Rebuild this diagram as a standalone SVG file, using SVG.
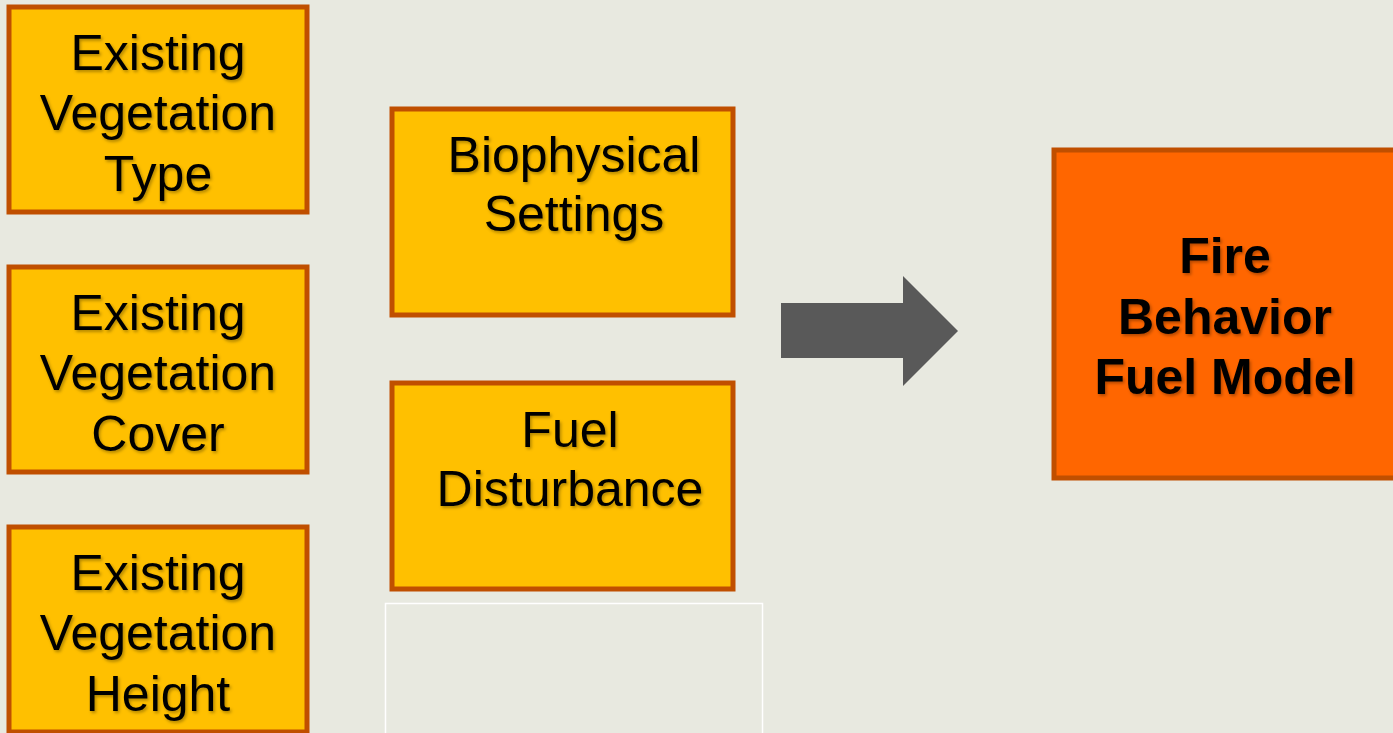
<svg xmlns="http://www.w3.org/2000/svg" width="1393" height="733" viewBox="0 0 1393 733">
  <defs>
    <style>
      .box { fill: #FFC000; stroke: #C04F00; stroke-width: 5; }
      .out { fill: #FF6600; stroke: #C04F00; stroke-width: 5; }
      .lbl { font-family: "Liberation Sans", Arial, sans-serif; font-size: 50px; fill: #000; text-anchor: middle; filter: url(#shade); }
      .bold { font-weight: bold; }
    </style>
    <filter id="shade" x="-10%" y="-20%" width="120%" height="150%">
      <feDropShadow dx="1.5" dy="2" stdDeviation="1.5" flood-color="#000" flood-opacity="0.3"/>
    </filter>
  </defs>

  <rect width="1393" height="733" fill="#E8E9E0"/>

  <!-- existing vegetation inputs -->
  <g id="evt">
    <rect class="box" x="9" y="7" width="298" height="205"/>
    <text class="lbl" x="158" y="70">Existing</text>
    <text class="lbl" x="158" y="130">Vegetation</text>
    <text class="lbl" x="158" y="191">Type</text>
  </g>
  <g id="evc">
    <rect class="box" x="9" y="267" width="298" height="205"/>
    <text class="lbl" x="158" y="330">Existing</text>
    <text class="lbl" x="158" y="390">Vegetation</text>
    <text class="lbl" x="158" y="451">Cover</text>
  </g>
  <g id="evh">
    <rect class="box" x="9" y="527" width="298" height="205"/>
    <text class="lbl" x="158" y="590">Existing</text>
    <text class="lbl" x="158" y="650">Vegetation</text>
    <text class="lbl" x="158" y="711">Height</text>
  </g>

  <!-- secondary inputs -->
  <g id="bps">
    <rect class="box" x="392" y="109" width="341" height="206"/>
    <text class="lbl" x="574" y="172">Biophysical</text>
    <text class="lbl" x="574" y="231">Settings</text>
  </g>
  <g id="fdist">
    <rect class="box" x="392" y="383" width="341" height="206"/>
    <text class="lbl" x="570" y="447">Fuel</text>
    <text class="lbl" x="570" y="506">Disturbance</text>
  </g>
  <g id="blank">
    <rect x="385.5" y="603.5" width="377" height="140" fill="none" stroke="#FFFFFF" stroke-width="1.5"/>
  </g>

  <!-- result -->
  <g id="fbfm">
    <rect class="out" x="1054" y="150" width="345" height="328"/>
    <text class="lbl bold" x="1225" y="273">Fire</text>
    <text class="lbl bold" x="1225" y="334">Behavior</text>
    <text class="lbl bold" x="1225" y="394">Fuel Model</text>
  </g>

  <g id="connectors">
    <polygon points="781,303 903,303 903,276 958,331 903,386 903,358 781,358" fill="#595959"/>
  </g>
</svg>
